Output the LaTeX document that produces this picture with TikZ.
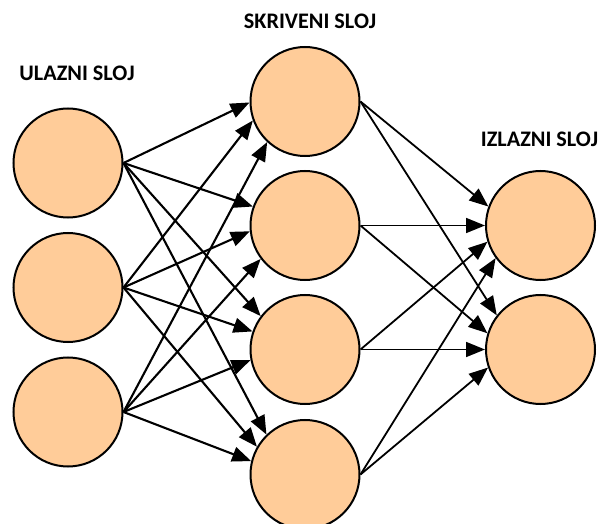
\documentclass[tikz,border=0pt]{standalone}
\usepackage{fontspec}
\setmainfont{Carlito}
\usetikzlibrary{arrows.meta}
\definecolor{peach}{HTML}{FFCC99}
\tikzset{
  neuron/.style={circle,draw=black,line width=2pt,fill=peach,minimum size=109pt,inner sep=0pt},
  conn/.style={line width=2.1pt,-{Triangle[length=19pt,width=15pt]}},
  thinconn/.style={conn,line width=1.8pt},
  layerlabel/.style={font=\bfseries\fontsize{22.2}{26}\selectfont,inner sep=0pt}
}
\begin{document}
\begin{tikzpicture}[x=1pt,y=-1pt]
\useasboundingbox (0,0) rectangle (598,524);
\node[neuron] (i1) at (68,163) {};
\node[neuron] (i2) at (68,287.5) {};
\node[neuron] (i3) at (68,412) {};
\node[neuron] (h1) at (305,101.5) {};
\node[neuron] (h2) at (305,225.5) {};
\node[neuron] (h3) at (305,349.5) {};
\node[neuron] (h4) at (305,474.5) {};
\node[neuron] (o1) at (540.5,225.5) {};
\node[neuron] (o2) at (540.5,349.5) {};
\node[layerlabel] (l1) at (77,73) {ULAZNI SLOJ};
\node[layerlabel] (l2) at (310,21.5) {SKRIVENI SLOJ};
\node[layerlabel] (l3) at (539.5,139) {IZLAZNI SLOJ};
% input -> hidden
\draw[conn] (i1.east) -- (h1.181);
\draw[conn] (i2.east) -- (h1.200);
\draw[conn] (i3.east) -- (h1.227);
\draw[conn] (i1.east) -- (h2.160);
\draw[conn] (i2.east) -- (h2.186);
\draw[conn] (i3.east) -- (h2.217);
\draw[conn] (i1.east) -- (h3.143);
\draw[conn] (i2.east) -- (h3.161);
\draw[conn] (i3.east) -- (h3.191);
\draw[conn] (i1.east) -- (h4.134);
\draw[conn] (i2.east) -- (h4.150);
\draw[conn] (i3.east) -- (h4.166);
% hidden -> output
\draw[thinconn] (h1.east) -- (o1.160);
\draw[thinconn] (h1.east) -- (o2.142);
\draw[thinconn] (h2.east) -- (o1.180);
\draw[thinconn] (h2.east) -- (o2.163);
\draw[thinconn] (h3.east) -- (o1.197);
\draw[thinconn] (h3.east) -- (o2.180);
\draw[thinconn] (h4.east) -- (o1.216);
\draw[thinconn] (h4.east) -- (o2.199);
\end{tikzpicture}
\end{document}
